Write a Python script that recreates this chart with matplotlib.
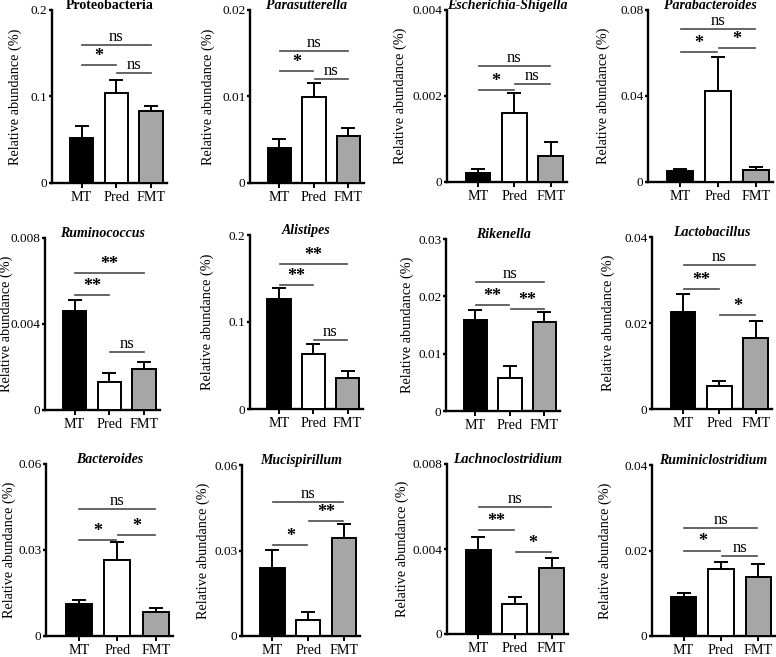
import matplotlib.pyplot as plt

plt.rcParams['font.family'] = ['Liberation Serif', 'DejaVu Serif']

groups = ['MT', 'Pred', 'FMT']
genera = ['Proteobacteria', 'Parasutterella', 'Escherichia-Shigella', 'Parabacteroides',
          'Ruminococcus', 'Alistipes', 'Rikenella', 'Lactobacillus',
          'Bacteroides', 'Mucispirillum', 'Lachnoclostridium', 'Ruminiclostridium']
italic = [False] + [True] * 11

means = [[0.052, 0.104, 0.083],
         [0.0041, 0.0099, 0.0054],
         [0.00022, 0.0016, 0.0006],
         [0.0049, 0.0424, 0.0054],
         [0.0046, 0.0013, 0.0019],
         [0.126, 0.063, 0.0355],
         [0.0158, 0.0057, 0.0155],
         [0.0226, 0.0054, 0.0166],
         [0.0111, 0.0266, 0.0082],
         [0.0237, 0.0056, 0.0344],
         [0.00395, 0.00141, 0.0031],
         [0.0091, 0.0156, 0.0138]]
errs = [[0.014, 0.0155, 0.0057],
        [0.001, 0.0017, 0.00096],
        [0.00009, 0.00047, 0.00034],
        [0.0013, 0.0159, 0.0014],
        [0.0005, 0.00042, 0.00032],
        [0.013, 0.0118, 0.0084],
        [0.0019, 0.0021, 0.0018],
        [0.0041, 0.0012, 0.0038],
        [0.0013, 0.0062, 0.0014],
        [0.0066, 0.0029, 0.005],
        [0.00062, 0.00031, 0.0005],
        [0.0009, 0.0018, 0.0031]]

yticks = [[0, 0.1, 0.2], [0, 0.01, 0.02], [0, 0.002, 0.004], [0, 0.04, 0.08],
          [0, 0.004, 0.008], [0, 0.1, 0.2], [0, 0.01, 0.02, 0.03], [0, 0.02, 0.04],
          [0, 0.03, 0.06], [0, 0.03, 0.06], [0, 0.004, 0.008], [0, 0.02, 0.04]]

# (from group, to group, height, label)
brackets = [[(0, 1, 0.136, '*'), (1, 2, 0.127, 'ns'), (0, 2, 0.160, 'ns')],
            [(0, 1, 0.0130, '*'), (1, 2, 0.0120, 'ns'), (0, 2, 0.0153, 'ns')],
            [(0, 1, 0.00215, '*'), (1, 2, 0.00227, 'ns'), (0, 2, 0.00269, 'ns')],
            [(0, 1, 0.0604, '*'), (1, 2, 0.0625, '*'), (0, 2, 0.071, 'ns')],
            [(0, 1, 0.00533, '**'), (1, 2, 0.00272, 'ns'), (0, 2, 0.00635, '**')],
            [(0, 1, 0.1427, '**'), (1, 2, 0.0794, 'ns'), (0, 2, 0.1668, '**')],
            [(0, 1, 0.01855, '**'), (1, 2, 0.01785, '**'), (0, 2, 0.0225, 'ns')],
            [(0, 1, 0.02785, '**'), (1, 2, 0.0218, '*'), (0, 2, 0.0336, 'ns')],
            [(0, 1, 0.03355, '*'), (1, 2, 0.03507, '*'), (0, 2, 0.04427, 'ns')],
            [(0, 1, 0.03181, '*'), (1, 2, 0.04035, '**'), (0, 2, 0.04702, 'ns')],
            [(0, 1, 0.0049, '**'), (1, 2, 0.00388, '*'), (0, 2, 0.00596, 'ns')],
            [(0, 1, 0.0200, '*'), (1, 2, 0.0186, 'ns'), (0, 2, 0.0253, 'ns')]]

colors = ['black', 'white', '#a6a6a6']

# axes boxes in pixels: left, right, top, bottom
boxes = [(52, 167, 10, 183), (250, 364, 10, 183), (447, 567, 10, 182), (648, 773, 10, 182),
         (45, 160, 238, 410), (250, 363, 235, 409), (446, 560, 239, 411), (652, 772, 237, 409),
         (46, 173, 464, 636), (242, 360, 465, 636), (447, 568, 464, 634), (652, 775, 465, 636)]
# distance of the y label centre from the y axis, pixels
ylab_off = [37, 42, 47, 45, 39, 43, 39, 44, 37, 39, 45, 47]

W, H = 776, 657
fig = plt.figure(figsize=(W / 100, H / 100), dpi=100)

x = [0, 1, 2]
for k in range(12):
    l, r, t, b = boxes[k]
    ax = fig.add_axes([l / W, 1 - b / H, (r - l) / W, (b - t) / H])
    ax.bar(x, means[k], width=0.68, color=colors, edgecolor='black', linewidth=1.4, zorder=3)
    ax.errorbar(x, means[k], yerr=[[0, 0, 0], errs[k]], fmt='none', ecolor='black',
                elinewidth=1.4, capsize=5, capthick=1.4, zorder=2)
    for i, j, y, lab in brackets[k]:
        ax.plot([i + 0.02, j - 0.02], [y, y], color='#4a4a4a', lw=1.2)
        if '*' in lab:
            ax.text((i + j) / 2, y, lab, ha='center', va='bottom', fontsize=13,
                    fontweight='bold')
        else:
            ax.text((i + j) / 2, y, lab, ha='center', va='bottom', fontsize=12)
    ax.set_xlim(-0.85, 2.45)
    ax.set_ylim(0, yticks[k][-1])
    ax.set_yticks(yticks[k])
    ax.set_yticklabels(['%g' % v for v in yticks[k]], fontsize=9.5)
    ax.set_xticks(x)
    ax.set_xticklabels(groups, fontsize=10.2)
    ax.spines['top'].set_visible(False)
    ax.spines['right'].set_visible(False)
    ax.spines['left'].set_linewidth(1.7)
    ax.spines['bottom'].set_linewidth(1.7)
    ax.tick_params(axis='y', length=2.5, width=1.7, pad=0.8)
    ax.tick_params(axis='x', length=3.5, width=1.4, pad=2.5)
    ax.set_ylabel('Relative abundance (%)', fontsize=10.3)
    # the label anchor is its right edge, about 7 px right of its centre
    ax.yaxis.set_label_coords(-(ylab_off[k] - 7) / (r - l), 0.5)
    ax.annotate(genera[k], xy=(0.5, 1), xycoords='axes fraction', xytext=(0, 0.5),
                textcoords='offset points', ha='center', va='baseline',
                fontsize=10, fontweight='bold',
                fontstyle='italic' if italic[k] else 'normal')

fig.savefig('out.png', dpi=100)
